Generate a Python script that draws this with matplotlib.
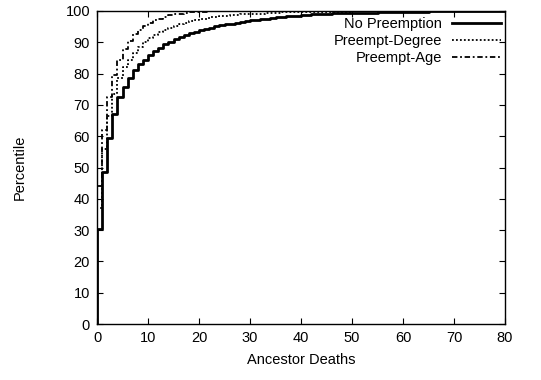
import matplotlib
matplotlib.use("Agg")
import matplotlib.pyplot as plt

plt.rcParams['font.family'] = ['Liberation Sans', 'DejaVu Sans']

# Data (x = ancestor deaths, y = cumulative percentile)
x_none = [0, 0, 1, 2, 3, 4, 5, 6, 7, 8, 9, 10, 11, 12, 13, 14, 15, 16, 17, 18, 19, 20,
          21, 22, 23, 24, 25, 26, 27, 28, 29, 30, 31, 32, 33, 34, 35, 36, 37, 38, 39, 40,
          42, 44, 46, 48, 50, 55, 60, 65, 70, 80]
y_none = [0, 30.5, 48.7, 59.5, 67.0, 72.5, 75.8, 78.5, 81.0, 83.0, 84.5, 86.0, 87.2, 88.3,
          89.3, 90.2, 91.0, 91.7, 92.3, 92.9, 93.4, 93.9, 94.3, 94.7, 95.1, 95.4, 95.7, 96.0,
          96.3, 96.6, 96.8, 97.0, 97.2, 97.4, 97.6, 97.8, 98.0, 98.1, 98.3, 98.4, 98.5, 98.7,
          98.9, 99.1, 99.3, 99.4, 99.5, 99.7, 99.8, 99.9, 100.0, 100.0]

x_degree = [0, 0, 1, 2, 3, 4, 5, 6, 7, 8, 9, 10, 11, 12, 13, 14, 15, 16, 17, 18, 19, 20,
            22, 24, 26, 28, 30, 33, 36, 40, 45, 50, 60, 80]
y_degree = [0, 37.0, 56.0, 66.5, 73.5, 78.5, 82.0, 84.5, 86.5, 88.5, 90.0, 91.3, 92.3, 93.2,
            94.0, 94.7, 95.3, 95.8, 96.3, 96.7, 97.1, 97.5, 98.0, 98.4, 98.7, 99.0, 99.2,
            99.4, 99.6, 99.7, 99.8, 99.9, 100.0, 100.0]

x_age = [0, 0, 1, 2, 3, 4, 5, 6, 7, 8, 9, 10, 11, 12, 13, 14, 15, 16, 17, 18, 20, 22, 25, 80]
y_age = [0, 44.0, 62.0, 72.5, 79.5, 84.5, 88.0, 90.5, 92.5, 94.0, 95.2, 96.2, 97.0, 97.6,
         98.1, 98.6, 98.9, 99.2, 99.4, 99.6, 99.8, 99.9, 100.0, 100.0]

labels = ["No Preemption", "Preempt-Degree", "Preempt-Age"]
x_ticks = [0, 10, 20, 30, 40, 50, 60, 70, 80]
y_ticks = [0, 10, 20, 30, 40, 50, 60, 70, 80, 90, 100]

fig = plt.figure(figsize=(5.41, 3.80), dpi=100)
ax = fig.add_axes([97 / 541, 56 / 380, 408 / 541, 313 / 380])

ax.step(x_none, y_none, where='post', color='black', lw=2.0, label=labels[0])
ax.step(x_degree, y_degree, where='post', color='black', lw=1.3,
        linestyle=(0, (1, 1.2)), label=labels[1])
ax.step(x_age, y_age, where='post', color='black', lw=1.3,
        linestyle=(0, (3, 1.5, 1, 1.5)), label=labels[2])

ax.set_xlim(0, 80)
ax.set_ylim(0, 100)
ax.set_xticks(x_ticks)
ax.set_yticks(y_ticks)
ax.tick_params(direction='in', top=True, right=True, length=4, width=0.8,
               labelsize=10.5, pad=5)
for s in ax.spines.values():
    s.set_linewidth(1.0)

ax.set_xlabel("Ancestor Deaths", fontsize=10.5, labelpad=6)
ax.set_ylabel("Percentile", fontsize=10.5, labelpad=28)

leg = ax.legend(loc='upper right', markerfirst=False, frameon=False, fontsize=10.5,
                handlelength=3.3, handletextpad=0.7, labelspacing=0.2,
                borderaxespad=0.3, bbox_to_anchor=(1.014, 1.012))

fig.savefig("out.png", dpi=100)
